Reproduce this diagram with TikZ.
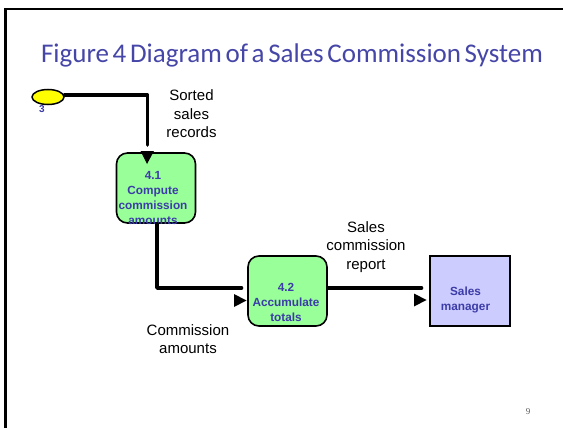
\documentclass[tikz,border=0pt]{standalone}
\usepackage{fontspec}
\usetikzlibrary{shapes.geometric}
\setmainfont{Liberation Sans}
\newfontfamily\titlefont[WordSpace=0.6]{Carlito}
\newfontfamily\pagefont{Liberation Serif}
\definecolor{titleblue}{HTML}{4646A8}
\definecolor{boxblue}{HTML}{3C3CA8}
\definecolor{procgreen}{HTML}{99FF99}
\definecolor{entlav}{HTML}{CCCCFF}
\definecolor{termyellow}{HTML}{FFFF00}
\begin{document}
\begin{tikzpicture}[x=1pt,y=-1pt,
  flow/.style={line width=3.6pt, line cap=round, line join=round},
  proc/.style={draw, line width=1.6pt, fill=procgreen, rounded corners=11pt, minimum width=79pt, minimum height=70pt, inner sep=0pt},
  ent/.style={draw, line width=1.6pt, fill=entlav, minimum width=80pt, minimum height=70pt, inner sep=0pt},
  boxtext/.style={text=boxblue, font=\fontsize{11.8}{15}\selectfont\bfseries, align=center, inner sep=0pt},
  flowlabel/.style={font=\fontsize{15}{18.5}\selectfont, align=center, inner sep=0pt},
  tip/.style={fill=black}]
\useasboundingbox (0,0) rectangle (563,428);
\fill[white] (0,0) rectangle (563,428);
% slide frame
\draw[line width=2.2pt] (5.5,428) -- (5.5,9) -- (563,9);
% title
\node[text=titleblue, font=\titlefont\fontsize{27}{30}\selectfont, anchor=base, inner sep=0pt] (title) at (292,63) {Figure 4 Diagram of a Sales Commission System};
% terminator 3
\node[draw, ellipse, line width=1.5pt, fill=termyellow, minimum width=32pt, minimum height=15pt, inner sep=0pt] (ext3) at (48,97) {};
\node[text=boxblue, font=\fontsize{10}{12}\selectfont\bfseries, inner sep=0pt] (ext3lbl) at (42,109) {3};
% processes
\node[proc] (p41) at (156,188) {};
\node[boxtext] (p41t) at (153,197.5) {4.1\\Compute\\commission\\amounts};
\node[proc] (p42) at (287.5,291) {};
\node[boxtext] (p42t) at (286,302) {4.2\\Accumulate\\totals};
\node[ent] (mgr) at (470,291) {};
\node[boxtext, font=\fontsize{11.8}{14.5}\selectfont\bfseries] (mgrt) at (465.5,300) {Sales\\manager};
% flow labels
\node[flowlabel] (l1) at (191.5,114) {Sorted\\sales\\records};
\node[flowlabel] (l2) at (188,339) {Commission\\amounts};
\node[flowlabel] (l3) at (366,247) {Sales\\commission\\report};
% connectors
\coordinate (e1) at (147.5,145);
\coordinate (e2) at (241.5,288);
\coordinate (e3) at (421.5,288);
\draw[flow] (ext3.east |- 0,95) -- (147.5,95) -- (e1);
\draw[flow] (p41.south -| 157,0) -- (157,288) -- (e2);
\draw[flow] (p42.east |- 0,288) -- (e3);
% arrowheads
\fill[tip] (140.5,151) -- (154,151) -- (147,164) -- cycle;
\fill[tip] (234,294) -- (234,307) -- (246.5,300.5) -- cycle;
\fill[tip] (414,293.5) -- (414,306.5) -- (426.5,300) -- cycle;
% page number
\node[text=black!65, font=\pagefont\fontsize{9}{10}\selectfont, inner sep=0pt] (pg) at (528,411.5) {9};
\end{tikzpicture}
\end{document}
